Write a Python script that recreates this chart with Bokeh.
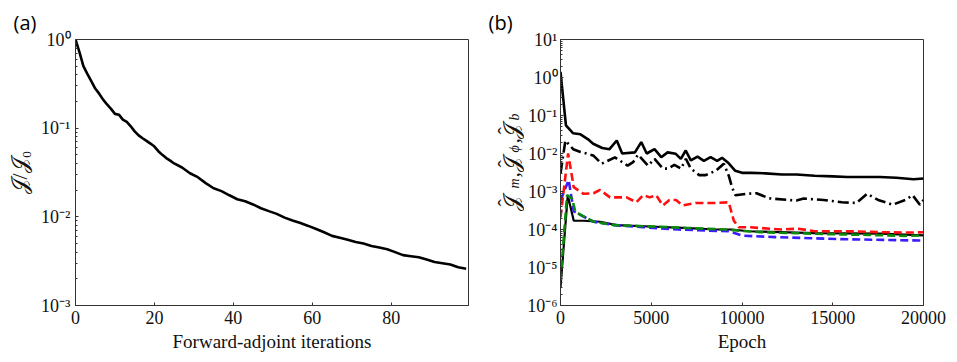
import math
from bokeh.plotting import figure
from bokeh.models import FixedTicker, Range1d
from bokeh.core.properties import value
from bokeh.layouts import row
from bokeh.embed import file_html
from bokeh.resources import INLINE

# ---------------- data: panel (a) ----------------
iters = [0, 1, 2, 3, 4, 5, 6, 7, 8, 9, 10, 11, 12, 13, 14, 15, 16, 17, 18, 19, 20,
         21, 22, 23, 24, 25, 27, 29, 31, 33, 35, 37, 39, 41, 43, 45, 47, 49, 51, 53,
         55, 57, 59, 61, 63, 65, 67, 69, 71, 73, 75, 77, 79, 81, 83, 85, 87, 89, 91,
         93, 95, 97, 99]
J_ratio = [1.0, 0.72, 0.50, 0.41, 0.34, 0.28, 0.245, 0.21, 0.185, 0.165, 0.145, 0.142,
           0.125, 0.118, 0.105, 0.092, 0.083, 0.077, 0.072, 0.067, 0.062, 0.055, 0.050,
           0.046, 0.043, 0.040, 0.036, 0.031, 0.028, 0.024, 0.021, 0.0195, 0.0175,
           0.0158, 0.0150, 0.0138, 0.0125, 0.0116, 0.0108, 0.0098, 0.0091, 0.0085,
           0.0079, 0.0073, 0.0067, 0.0061, 0.0058, 0.0055, 0.0052, 0.0050, 0.0047,
           0.0045, 0.0043, 0.0040, 0.0037, 0.0036, 0.0035, 0.0033, 0.0031, 0.0030,
           0.0029, 0.0027, 0.0026]

# ---------------- data: panel (b) ----------------
ep_m = [0, 300, 700, 1100, 1500, 1800, 2300, 2700, 3100, 3400, 4100, 4450, 4750, 5180,
        5550, 5900, 6350, 6630, 6900, 7180, 7550, 7900, 8270, 8630, 8900, 9270, 9630,
        10000, 10500, 11300, 12200, 13000, 14000, 15000, 15800, 16700, 17600, 18500,
        19450, 20000]
J_m = [1.4, 0.055, 0.034, 0.032, 0.024, 0.018, 0.014, 0.013, 0.022, 0.010, 0.0107,
       0.020, 0.0100, 0.013, 0.0080, 0.0107, 0.0098, 0.0072, 0.012, 0.0066, 0.0083,
       0.0064, 0.0080, 0.0064, 0.0077, 0.0055, 0.0035, 0.0031, 0.0031, 0.0030, 0.0028,
       0.0028, 0.0026, 0.0025, 0.0024, 0.0024, 0.0024, 0.0023, 0.0021, 0.0022]

ep_phi = [0, 270, 700, 1100, 1800, 2270, 3000, 3700, 4000, 4270, 4820, 5180, 5640,
          5910, 6270, 6640, 6910, 7180, 7640, 8000, 8550, 9000, 9270, 9450, 9640,
          10270, 10800, 11500, 12500, 13000, 13400, 14500, 15500, 16300, 16900, 17500,
          18300, 19000, 19400, 19800, 20000]
J_phi = [0.003, 0.022, 0.013, 0.011, 0.0089, 0.0054, 0.0079, 0.0048, 0.0059, 0.0093,
         0.0048, 0.0072, 0.0040, 0.0040, 0.0050, 0.0040, 0.0072, 0.0040, 0.0027,
         0.0027, 0.0035, 0.0054, 0.0026, 0.0013, 0.0008, 0.00087, 0.0009, 0.00066,
         0.0006, 0.00058, 0.00065, 0.0006, 0.00052, 0.0005, 0.00087, 0.0006, 0.00045,
         0.0006, 0.0008, 0.00045, 0.0006]

ep_red = [0, 420, 730, 1270, 1820, 2180, 2730, 3640, 4180, 4550, 4910, 5270, 5640,
          6000, 6360, 6730, 7450, 8550, 9270, 9550, 9820, 10360, 12180, 13090, 14000,
          15820, 17640, 19450, 20000]
J_red = [0.00021, 0.010, 0.0013, 0.00087, 0.0009, 0.0011, 0.0007, 0.0007, 0.00052,
         0.0008, 0.0007, 0.0008, 0.00043, 0.0006, 0.0006, 0.00043, 0.0005, 0.0005,
         0.00052, 0.00017, 0.000115, 0.000115, 0.0001, 0.000105, 0.00009, 0.00009,
         0.000085, 0.000083, 0.000085]

ep_blue = [0, 450, 730, 1820, 3000, 4550, 6500, 8180, 9270, 10000, 11820, 15270, 20000]
J_blue = [0.00058, 0.0020, 0.0003, 0.00016, 0.00013, 0.000115, 0.0001, 0.000093,
          0.00009, 0.000069, 0.000063, 0.000056, 0.000051]

ep_green = [0, 360, 640, 820, 1820, 3000, 5000, 7000, 9000, 11000, 13000, 15000,
            17000, 19000, 20000]
J_green = [4.6e-6, 0.0008, 0.00065, 0.00029, 0.00016, 0.00013, 0.00012, 0.00011,
           0.0001, 0.000085, 0.00008, 0.000075, 0.000072, 0.000068, 0.00007]

ep_k2 = [0, 400, 730, 1270, 2180, 3090, 4910, 6730, 8550, 9450, 10360, 14000, 17640,
         20000]
J_k2 = [3e-6, 0.0008, 0.00017, 0.00017, 0.00016, 0.00013, 0.00012, 0.00011, 0.0001,
        0.0001, 0.00009, 0.00008, 0.000078, 0.00007]

# ---------------- ticks ----------------
a_x_ticks = [0, 20, 40, 60, 80]
a_y_ticks = [1e-3, 1e-2, 1e-1, 1e0]
a_y_labels = ["10\u207b\u00b3", "10\u207b\u00b2", "10\u207b\u00b9", "10\u2070"]
b_x_ticks = [0, 5000, 10000, 15000, 20000]
b_y_ticks = [1e-6, 1e-5, 1e-4, 1e-3, 1e-2, 1e-1, 1e0, 1e1]
b_y_labels = ["10\u207b\u2076", "10\u207b\u2075", "10\u207b\u2074", "10\u207b\u00b3",
              "10\u207b\u00b2", "10\u207b\u00b9", "10\u2070", "10\u00b9"]

SERIF = "Liberation Serif, Times New Roman, serif"
TICK_SIZE = "18px"
LABEL_SIZE = "19px"


def minor_log(ticks):
    out = []
    for t in ticks[:-1]:
        out += [k * t for k in range(2, 10)]
    return out


def style(p, xt, yt, ylabels):
    p.xgrid.visible = False
    p.ygrid.visible = False
    p.outline_line_color = "#333333"
    p.outline_line_width = 1
    p.xaxis.ticker = FixedTicker(ticks=xt)
    p.yaxis.ticker = FixedTicker(ticks=yt, minor_ticks=minor_log(yt))
    p.yaxis.major_label_overrides = {t: l for t, l in zip(yt, ylabels)}
    for ax in (p.xaxis[0], p.yaxis[0]):
        ax.axis_line_color = "#333333"
        ax.major_tick_in = 3
        ax.major_tick_out = 0
        ax.minor_tick_in = 2
        ax.minor_tick_out = 0
        ax.major_tick_line_color = "#333333"
        ax.minor_tick_line_color = "#333333"
        ax.major_label_text_font = SERIF
        ax.major_label_text_font_size = TICK_SIZE
        ax.major_label_text_color = "#111111"
        ax.major_label_standoff = 5
        ax.axis_label_text_font = SERIF
        ax.axis_label_text_font_size = LABEL_SIZE
        ax.axis_label_text_font_style = "normal"
        ax.axis_label_text_color = "#111111"
        ax.axis_label_standoff = 4
    p.xaxis.minor_tick_line_color = None


def panel_title(p, text, offset):
    p.title.text = text
    p.title.align = "left"
    p.title.offset = offset
    p.title.standoff = 8
    p.title.text_font = "Open Sans"
    p.title.text_font_size = "20px"
    p.title.text_font_style = "normal"
    p.title.text_color = "black"


# ---------------- panel (a) ----------------
p1 = figure(width=480, height=362, y_axis_type="log",
            x_range=Range1d(0, 99.6), y_range=Range1d(1e-3, 1.0),
            output_backend="svg", toolbar_location=None,
            min_border_left=75, min_border_right=12, min_border_top=39,
            min_border_bottom=57)
style(p1, a_x_ticks, a_y_ticks, a_y_labels)
p1.xaxis.axis_label = "Forward-adjoint iterations"
p1.yaxis.axis_label = "\U0001D4A5/\U0001D4A5\u2080"
p1.yaxis.axis_label_text_font_size = "22px"
p1.yaxis.axis_label_standoff = 6
panel_title(p1, "(a)", -62)
p1.line(iters, J_ratio, line_color="black", line_width=2.6)

# ---------------- label strip (title "(b)" + y label of panel b) ----------------
# its frame lines up with the neighbouring frames; the ranges are set so that
# one data unit equals one pixel of the page (y counted from the top).
pl = figure(width=44, height=362, x_range=Range1d(480, 524), y_range=Range1d(305, 39),
            output_backend="svg", toolbar_location=None,
            x_axis_location=None, y_axis_location=None,
            min_border_left=0, min_border_right=0, min_border_top=39,
            min_border_bottom=57)
pl.outline_line_color = None
pl.xgrid.visible = False
pl.ygrid.visible = False
panel_title(pl, "(b)", 8)

main_txt = ["\U0001D4A5", ",", "\U0001D4A5", ",", "\U0001D4A5"]
main_y = [210, 177, 171, 143, 138]
hat_y = [206, 167, 134]
sub_txt = ["m", "\u03d5", "b"]
sub_y = [188, 152, 120]
rot = math.pi / 2
pl.text(x=[511] * len(main_txt), y=main_y, text=main_txt, angle=rot,
        text_font=value(SERIF), text_font_size="22px", text_color="#111111",
        text_baseline="alphabetic", text_align="left")
pl.text(x=[505] * len(hat_y), y=hat_y, text=["\u02c6"] * len(hat_y), angle=rot,
        text_font=value(SERIF), text_font_size="22px", text_color="#111111",
        text_baseline="alphabetic", text_align="left")
pl.text(x=[514] * len(sub_txt), y=sub_y, text=sub_txt, angle=rot,
        text_font=value(SERIF), text_font_size="14px", text_font_style="italic",
        text_color="#111111", text_baseline="alphabetic", text_align="left")

# ---------------- panel (b) ----------------
p2 = figure(width=433, height=362, y_axis_type="log",
            x_range=Range1d(0, 20000), y_range=Range1d(1e-6, 10.0),
            output_backend="svg", toolbar_location=None,
            min_border_left=33, min_border_right=34, min_border_top=39,
            min_border_bottom=57)
style(p2, b_x_ticks, b_y_ticks, b_y_labels)
p2.yaxis.major_label_standoff = 3
p2.xaxis.axis_label = "Epoch"

LW = 2.6
p2.line(ep_k2, J_k2, line_color="black", line_width=2.2)
p2.line(ep_blue, J_blue, line_color="#3b1cff", line_width=LW, line_dash="8 4")
p2.line(ep_green, J_green, line_color="#0a8a0a", line_width=LW, line_dash="8 4")
p2.line(ep_red, J_red, line_color="#ff1010", line_width=LW, line_dash="8 4")
p2.line(ep_phi, J_phi, line_color="black", line_width=LW, line_dash="11 4 2 4")
p2.line(ep_m, J_m, line_color="black", line_width=LW)

layout = row(p1, pl, p2)
open("out.html", "w").write(file_html(layout, INLINE))
